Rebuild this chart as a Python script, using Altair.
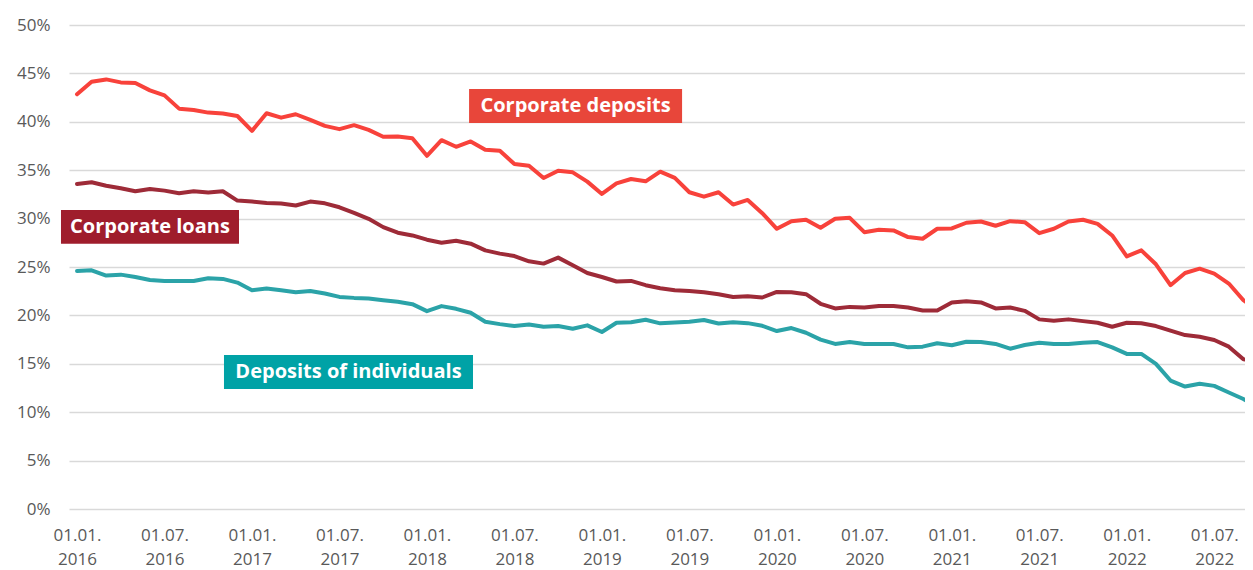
import json
import altair as alt
import pandas as pd

# ---------------- data ----------------
months = list(range(82))  # 0 = Jan 2016, monthly

corporate_deposits = [
    42.84, 44.14, 44.38, 44.07, 44.00, 43.25, 42.73, 41.36, 41.22, 40.95,
    40.85, 40.60, 39.06, 40.88, 40.43, 40.78, 40.20, 39.58, 39.24, 39.65,
    39.17, 38.45, 38.48, 38.31, 36.49, 38.10, 37.42, 37.97, 37.11, 37.00,
    35.64, 35.46, 34.20, 34.95, 34.78, 33.82, 32.55, 33.64, 34.09, 33.85,
    34.85, 34.20, 32.72, 32.27, 32.72, 31.45, 31.93, 30.56, 28.95, 29.73,
    29.88, 29.05, 29.98, 30.08, 28.60, 28.85, 28.78, 28.09, 27.92, 28.95,
    28.98, 29.57, 29.70, 29.26, 29.73, 29.63, 28.50, 28.95, 29.70, 29.88,
    29.46, 28.26, 26.10, 26.72, 25.28, 23.12, 24.38, 24.83, 24.32, 23.29,
    21.57, 20.50,
]

corporate_loans = [
    33.58, 33.75, 33.40, 33.13, 32.82, 33.06, 32.89, 32.62, 32.82, 32.69,
    32.82, 31.86, 31.76, 31.62, 31.55, 31.35, 31.76, 31.58, 31.17, 30.60,
    29.98, 29.12, 28.54, 28.26, 27.82, 27.51, 27.72, 27.41, 26.72, 26.38,
    26.13, 25.59, 25.35, 25.97, 25.17, 24.38, 23.97, 23.50, 23.56, 23.12,
    22.81, 22.60, 22.53, 22.40, 22.19, 21.91, 21.99, 21.85, 22.43, 22.40,
    22.19, 21.20, 20.72, 20.88, 20.82, 20.96, 20.96, 20.82, 20.51, 20.51,
    21.34, 21.47, 21.34, 20.72, 20.82, 20.47, 19.59, 19.45, 19.59, 19.41,
    19.24, 18.83, 19.24, 19.18, 18.90, 18.42, 17.97, 17.80, 17.46, 16.77,
    15.47, 15.30,
]

deposits_individuals = [
    24.59, 24.66, 24.11, 24.21, 23.97, 23.66, 23.56, 23.56, 23.56, 23.84,
    23.77, 23.39, 22.60, 22.78, 22.60, 22.40, 22.53, 22.26, 21.91, 21.81,
    21.75, 21.57, 21.40, 21.16, 20.44, 20.96, 20.68, 20.27, 19.34, 19.10,
    18.90, 19.07, 18.83, 18.90, 18.62, 18.97, 18.28, 19.24, 19.30, 19.55,
    19.18, 19.27, 19.34, 19.52, 19.16, 19.30, 19.20, 18.93, 18.38, 18.69,
    18.21, 17.50, 17.05, 17.25, 17.05, 17.05, 17.05, 16.70, 16.77, 17.12,
    16.91, 17.28, 17.25, 17.05, 16.56, 16.94, 17.18, 17.05, 17.05, 17.18,
    17.25, 16.70, 16.02, 16.02, 14.99, 13.27, 12.65, 12.93, 12.72, 12.04,
    11.36, 10.50,
]

series_names = ["Corporate deposits", "Corporate loans", "Deposits of individuals"]

tick_values = [0, 6, 12, 18, 24, 30, 36, 42, 48, 54, 60, 66, 72, 78]
tick_labels = [
    ["01.01.", "2016"], ["01.07.", "2016"], ["01.01.", "2017"], ["01.07.", "2017"],
    ["01.01.", "2018"], ["01.07.", "2018"], ["01.01.", "2019"], ["01.07.", "2019"],
    ["01.01.", "2020"], ["01.07.", "2020"], ["01.01.", "2021"], ["01.07.", "2021"],
    ["01.01.", "2022"], ["01.07.", "2022"],
]
y_ticks = [0, 5, 10, 15, 20, 25, 30, 35, 40, 45, 50]

# ---------------- styling / annotation placement ----------------
line_colors = ["#f8423b", "#9e2b38", "#2ba3a8"]
box_colors = ["#e8463a", "#9f1d2c", "#00a2a6"]

rows = []
for name, vals in zip(series_names, [corporate_deposits, corporate_loans, deposits_individuals]):
    for m, v in zip(months, vals):
        rows.append({"month": m, "value": v, "series": name})
df = pd.DataFrame(rows)

# label boxes (month-index / percent coordinates)
ann = pd.DataFrame({
    "series": series_names,
    "x1": [26.89, -1.10, 10.08],
    "x2": [41.50, 11.11, 27.16],
    "y1": [39.88, 27.41, 12.40],
    "y2": [43.39, 30.89, 15.91],
})
ann["xc"] = (ann["x1"] + ann["x2"]) / 2
ann["yc"] = (ann["y1"] + ann["y2"]) / 2

x_scale = alt.Scale(domain=[-0.55, 80.11], nice=False, zero=False)
y_scale = alt.Scale(domain=[0, 50], nice=False, zero=True)

label_expr = json.dumps(tick_labels) + "[round(datum.value / 6)]"

x_axis = alt.Axis(values=tick_values, labelExpr=label_expr, grid=False,
                  ticks=False, domain=False, labelFont="Open Sans",
                  labelFontSize=17, labelColor="#595959",
                  labelLineHeight=24, labelPadding=18, labelBaseline="top",
                  labelFlush=False, labelOverlap=False, title=None)
y_axis = alt.Axis(values=y_ticks, labelExpr="datum.value + '%'",
                  gridColor="#d9d9d9", gridWidth=1.5, ticks=False,
                  domain=False, labelFont="Open Sans", labelFontSize=17,
                  labelColor="#595959", labelPadding=19, title=None)

lines = alt.Chart(df).mark_line(
    strokeWidth=4, clip=True, strokeCap="round", strokeJoin="round"
).encode(
    x=alt.X("month:Q", scale=x_scale, axis=x_axis, title=None),
    y=alt.Y("value:Q", scale=y_scale, axis=y_axis, title=None),
    color=alt.Color("series:N", scale=alt.Scale(domain=series_names, range=line_colors),
                    legend=None),
)

boxes = alt.Chart(ann).mark_rect().encode(
    x=alt.X("x1:Q", scale=x_scale, axis=x_axis, title=None),
    x2="x2",
    y=alt.Y("y1:Q", scale=y_scale, axis=y_axis, title=None),
    y2="y2",
    fill=alt.Fill("series:N", scale=alt.Scale(domain=series_names, range=box_colors),
                  legend=None),
)

texts = alt.Chart(ann).mark_text(
    color="white", fontWeight="bold", fontSize=20, font="Open Sans",
    align="center", baseline="middle",
).encode(
    x=alt.X("xc:Q", scale=x_scale, axis=x_axis, title=None),
    y=alt.Y("yc:Q", scale=y_scale, axis=y_axis, title=None),
    text="series:N",
)

chart = alt.layer(lines, boxes, texts).properties(
    width=1176,
    height=484,
    autosize="none",
    background="white",
    padding={"left": 61, "top": 17, "right": 0, "bottom": 60},
).configure_view(stroke=None)

chart.save("out.html", embed_options={"renderer": "svg", "actions": False})
